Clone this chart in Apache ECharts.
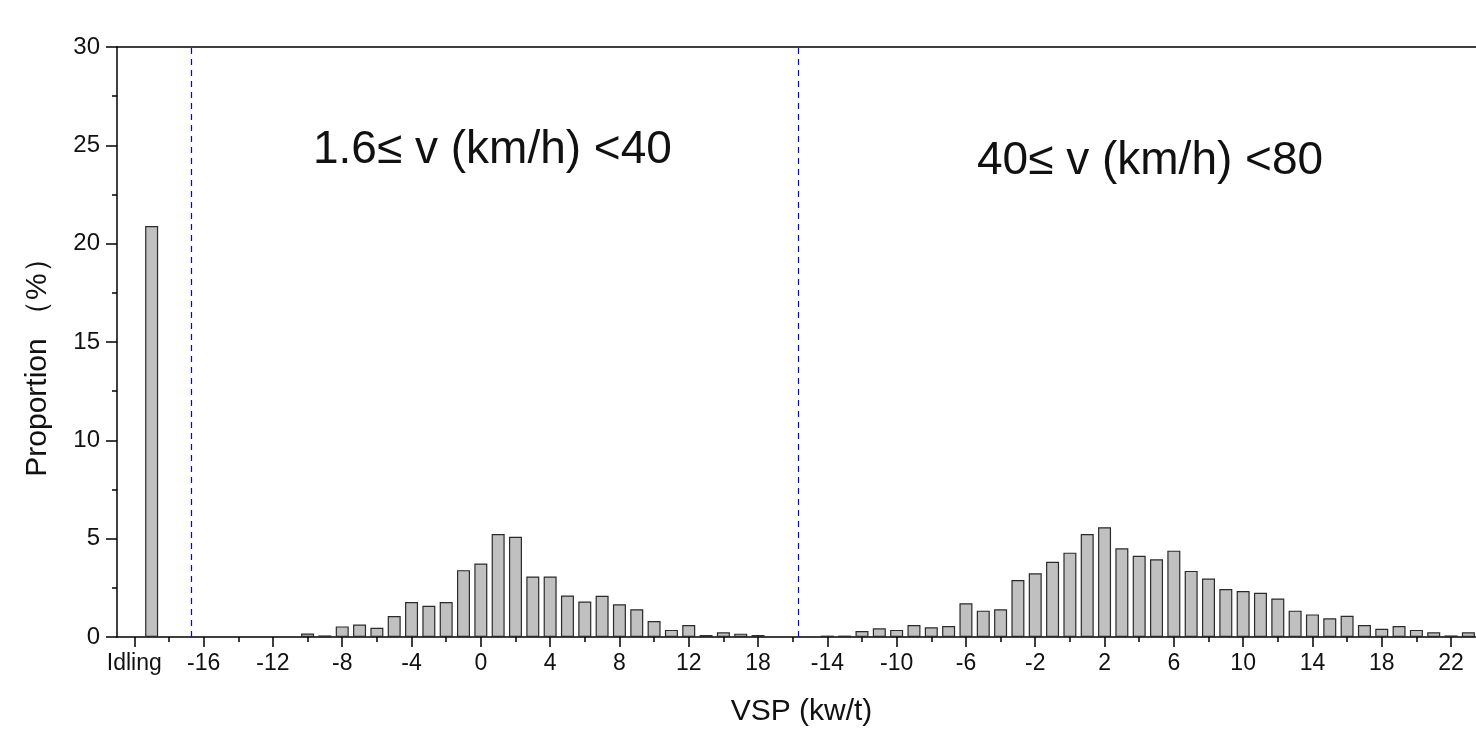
<!DOCTYPE html>
<html>
<head>
<meta charset="utf-8">
<script src="https://cdn.jsdelivr.net/npm/echarts@6/dist/echarts.min.js"></script>
<style>
  html, body { margin: 0; padding: 0; background: #fff; }
  #chart { width: 1476px; height: 731px; }
</style>
</head>
<body>
<div id="chart"></div>
<script>
// ---------------- data ----------------
const idlingValue = [20.9];
// 1.6 <= v < 40 km/h, VSP bins (kw/t)
const lowSpeedBins = [-10, -9, -8, -7, -6, -5, -4, -3, -2, -1, 0, 1, 2, 3, 4, 5, 6, 7, 8, 9, 10, 11, 12, 13, 14, 15, 16];
const lowSpeedValues = [0.18, 0.08, 0.54, 0.63, 0.47, 1.07, 1.78, 1.59, 1.78, 3.40, 3.74, 5.24, 5.10, 3.08, 3.08, 2.11, 1.80, 2.10, 1.66, 1.41, 0.81, 0.36, 0.61, 0.10, 0.24, 0.17, 0.10];
// 40 <= v < 80 km/h, VSP bins (kw/t)
const highSpeedBins = [-14, -13, -12, -11, -10, -9, -8, -7, -6, -5, -4, -3, -2, -1, 0, 1, 2, 3, 4, 5, 6, 7, 8, 9, 10, 11, 12, 13, 14, 15, 16, 17, 18, 19, 20, 21, 22, 23];
const highSpeedValues = [0.07, 0.07, 0.30, 0.44, 0.36, 0.61, 0.49, 0.56, 1.71, 1.34, 1.41, 2.90, 3.24, 3.83, 4.29, 5.24, 5.58, 4.51, 4.13, 3.95, 4.39, 3.36, 2.97, 2.44, 2.34, 2.25, 1.96, 1.34, 1.15, 0.95, 1.08, 0.61, 0.42, 0.56, 0.36, 0.24, 0.08, 0.24];
const xTickLabels = ['Idling', '-16', '-12', '-8', '-4', '0', '4', '8', '12', '18', '-14', '-10', '-6', '-2', '2', '6', '10', '14', '18', '22'];
const yTicks = [0, 5, 10, 15, 20, 25, 30];
const segmentLabels = ['1.6\u2264 v (km/h) <40', '40\u2264 v (km/h) <80'];

// ---------------- layout on a shared axis ----------------
const IDLING_POS = -19;       // idling bar slot
const HIGH_OFFSET = 34;       // second block shifted along the axis
const dividers = [-16.7, 18.3];
const majorPositions = xTickLabels.map((_, i) => -20 + 4 * i);
const minorPositions = xTickLabels.map((_, i) => -18 + 4 * i);
const labelMap = {};
majorPositions.forEach((p, i) => { labelMap[p] = xTickLabels[i]; });

const barData = [];
barData.push([IDLING_POS, idlingValue[0]]);
lowSpeedBins.forEach((b, i) => barData.push([b, lowSpeedValues[i]]));
highSpeedBins.forEach((b, i) => barData.push([b + HIGH_OFFSET, highSpeedValues[i]]));

const FONT = "'Liberation Sans', Arial, sans-serif";
const X_MIN = -21, X_MAX = 57.44;

const chart = echarts.init(document.getElementById('chart'), null, { renderer: 'canvas' });
chart.setOption({
  animation: false,
  backgroundColor: '#ffffff',
  grid: { left: 117, right: 0, top: 47, bottom: 94, containLabel: false, outerBoundsMode: 'none' },
  xAxis: [
    {
      type: 'value', position: 'bottom', min: X_MIN, max: X_MAX,
      name: 'VSP (kw/t)', nameLocation: 'middle', nameGap: 60,
      nameTextStyle: { fontFamily: FONT, fontSize: 30, color: '#111', padding: [0, 0, 0, 10] },
      axisLine: { show: true, onZero: false, lineStyle: { color: '#000', width: 1.5 } },
      axisTick: { show: true, inside: false, length: 10, customValues: majorPositions, lineStyle: { color: '#000', width: 1.5 } },
      axisLabel: {
        show: true, customValues: majorPositions, margin: 15,
        fontFamily: FONT, fontSize: 23, color: '#111',
        formatter: (v) => labelMap[v] !== undefined ? labelMap[v] : ''
      },
      splitLine: { show: false }
    },
    {
      type: 'value', position: 'bottom', min: X_MIN, max: X_MAX,
      axisLine: { show: false, onZero: false },
      axisTick: { show: true, inside: false, length: 5, customValues: minorPositions, lineStyle: { color: '#000', width: 1.5 } },
      axisLabel: { show: false },
      splitLine: { show: false }
    },
    {
      type: 'value', position: 'top', min: X_MIN, max: X_MAX,
      axisLine: { show: true, onZero: false, lineStyle: { color: '#000', width: 1.5 } },
      axisTick: { show: false }, axisLabel: { show: false }, splitLine: { show: false }
    }
  ],
  yAxis: {
    type: 'value', position: 'left', min: yTicks[0], max: yTicks[yTicks.length - 1], interval: 5,
    name: 'Proportion \uFF08%\uFF09', nameLocation: 'middle', nameGap: 64, nameRotate: 90,
    nameTextStyle: { fontFamily: FONT, fontSize: 30, color: '#111', padding: [0, 36, 0, 0] },
    axisLine: { show: true, onZero: false, lineStyle: { color: '#000', width: 1.5 } },
    axisTick: { show: true, inside: false, length: 11, lineStyle: { color: '#000', width: 1.5 } },
    minorTick: { show: true, splitNumber: 2, length: 5, lineStyle: { color: '#000', width: 1.5 } },
    axisLabel: { margin: 17, fontFamily: FONT, fontSize: 24, color: '#111' },
    splitLine: { show: false }
  },
  series: [{
    type: 'bar',
    xAxisIndex: 0,
    data: barData,
    barWidth: 13,
    itemStyle: { color: '#c0c0c0', borderColor: '#2a2a2a', borderWidth: 1.2 },
    markLine: {
      silent: true, symbol: 'none', animation: false,
      label: { show: false },
      lineStyle: { color: '#0000ff', type: [6, 5], width: 1.2 },
      data: dividers.map(d => ({ xAxis: d }))
    }
  }],
  graphic: [
    { type: 'text', left: 313, top: 127, style: { text: segmentLabels[0], font: '46px ' + FONT, fill: '#111' } },
    { type: 'text', left: 977, top: 138, style: { text: segmentLabels[1], font: '46px ' + FONT, fill: '#111' } }
  ]
});
</script>
</body>
</html>
